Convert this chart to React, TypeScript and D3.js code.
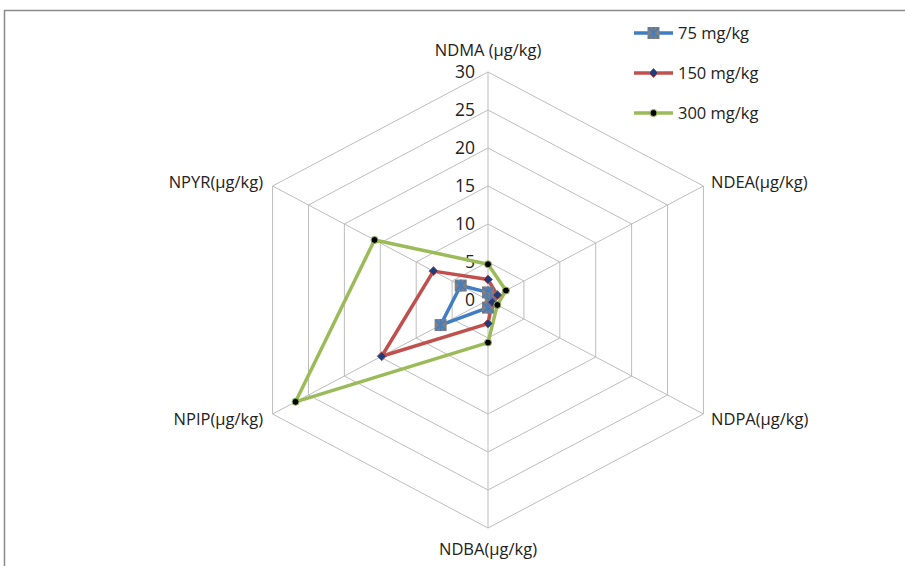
import React from "react";
import * as d3 from "d3";

const axes = ["NDMA (µg/kg)", "NDEA(µg/kg)", "NDPA(µg/kg)", "NDBA(µg/kg)", "NPIP(µg/kg)", "NPYR(µg/kg)"];
const ticks = [0, 5, 10, 15, 20, 25, 30];
const seriesNames = ["75 mg/kg", "150 mg/kg", "300 mg/kg"];
const s75 = [1.0, 0.4, 0.4, 1.0, 6.6, 3.8];
const s150 = [2.7, 1.3, 0.6, 3.1, 14.8, 7.6];
const s300 = [4.7, 2.5, 1.3, 5.6, 26.8, 15.8];
const colors = ["#3f7dc4", "#c0504d", "#9bbb59"];

const W = 905;
const H = 566;
const cx = 488;
const cy = 300;
const sx = 1.091; // horizontal stretch of the original picture
const font = "'Open Sans', 'Liberation Sans', sans-serif";

const App = () => {
  const r = d3.scaleLinear().domain([0, 30]).range([0, 228]);
  const angle = d3.scaleLinear().domain([0, axes.length]).range([0, 2 * Math.PI]);

  const pt = (i: number, v: number): [number, number] => {
    const a = angle(i);
    return [cx + sx * r(v) * Math.sin(a), cy - r(v) * Math.cos(a)];
  };

  const closed = d3.line().curve(d3.curveLinearClosed);
  const data = [s75, s150, s300];

  const labelPos = [
    { x: cx, y: 56, anchor: "middle" },
    { x: 711, y: 188, anchor: "start" },
    { x: 711, y: 425, anchor: "start" },
    { x: cx, y: 555, anchor: "middle" },
    { x: 263, y: 425, anchor: "end" },
    { x: 263, y: 188, anchor: "end" },
  ];

  const marker = (k: number, x: number, y: number, key: string) => {
    if (k === 0) {
      return (
        <g key={key}>
          <rect x={x - 6} y={y - 6} width={12} height={12} fill="#7f7f7f" />
          <path
            d={`M${x - 5},${y - 5}L${x + 5},${y + 5}M${x - 5},${y + 5}L${x + 5},${y - 5}M${x},${y - 6}L${x},${y + 6}`}
            stroke={colors[0]}
            strokeWidth={1.5}
          />
        </g>
      );
    }
    if (k === 1) {
      return (
        <path
          key={key}
          d={`M${x},${y - 4.5}L${x + 4.5},${y}L${x},${y + 4.5}L${x - 4.5},${y}Z`}
          fill="#1f3d7a"
          stroke={colors[1]}
          strokeWidth={1}
        />
      );
    }
    return <circle key={key} cx={x} cy={y} r={3.5} fill="#000" stroke={colors[2]} strokeWidth={1} />;
  };

  return (
    <svg width={W} height={H} style={{ position: "absolute", left: 0, top: 0, background: "#fff" }}>
      <rect x={4.5} y={10.5} width={1000} height={1000} fill="#fff" stroke="#8a8a8a" strokeWidth={1.5} />

      {/* grid hexagons */}
      {ticks.slice(1).map((t) => (
        <path
          key={t}
          d={closed(axes.map((_, i) => pt(i, t))) || ""}
          fill="none"
          stroke="#bdbdbd"
          strokeWidth={1}
        />
      ))}
      {axes.map((_, i) => {
        const [x, y] = pt(i, 30);
        return <line key={i} x1={cx} y1={cy} x2={x} y2={y} stroke="#bdbdbd" strokeWidth={1} />;
      })}

      {/* tick labels */}
      {ticks.map((t) => (
        <text
          key={t}
          x={475}
          y={cy - r(t) + 6}
          textAnchor="end"
          fontFamily={font}
          fontSize={17.5}
          fill="#222"
        >
          {t}
        </text>
      ))}

      {/* series */}
      {data.map((s, k) => (
        <path
          key={k}
          d={closed(s.map((v, i) => pt(i, v))) || ""}
          fill="none"
          stroke={colors[k]}
          strokeWidth={3.5}
          strokeLinejoin="round"
        />
      ))}
      {data.map((s, k) => s.map((v, i) => {
        const [x, y] = pt(i, v);
        return marker(k, x, y, `${k}-${i}`);
      }))}

      {/* axis labels */}
      {axes.map((a, i) => (
        <text
          key={a}
          x={labelPos[i].x}
          y={labelPos[i].y}
          textAnchor={labelPos[i].anchor}
          fontFamily={font}
          fontSize={16.5}
          fill="#222"
        >
          {a}
        </text>
      ))}

      {/* legend */}
      {seriesNames.map((n, k) => {
        const y = 33 + k * 40;
        return (
          <g key={n}>
            <line x1={634} x2={673} y1={y} y2={y} stroke={colors[k]} strokeWidth={3.5} />
            {marker(k, 653.5, y, `lg${k}`)}
            <text x={678} y={y + 6} fontFamily={font} fontSize={16.5} fill="#222">
              {n}
            </text>
          </g>
        );
      })}
    </svg>
  );
};

export default App;
